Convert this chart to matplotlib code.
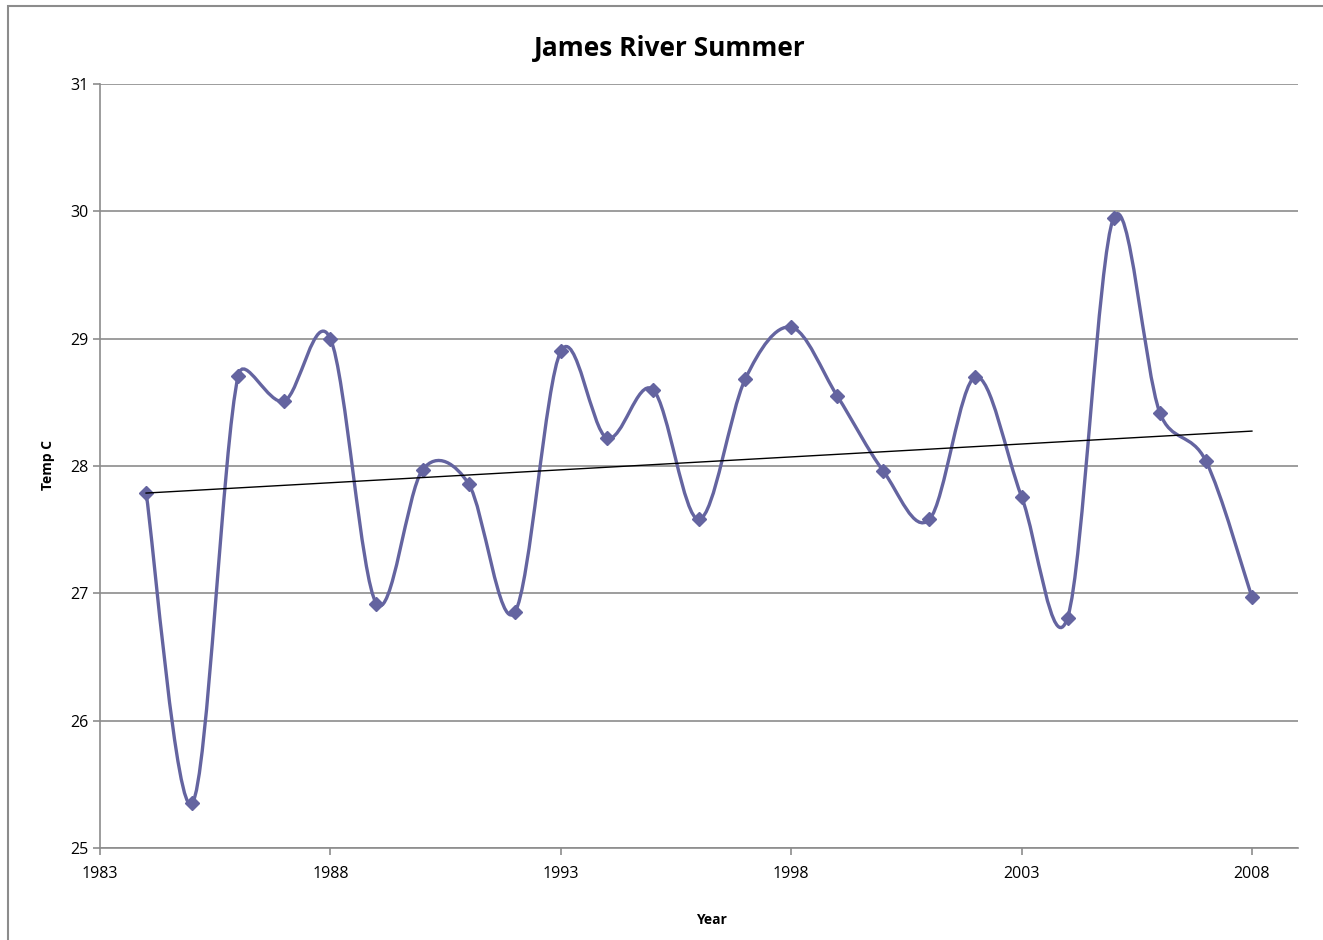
import numpy as np
import matplotlib.pyplot as plt
from matplotlib.path import Path
from matplotlib.patches import PathPatch, Rectangle

years = list(range(1984, 2009))
temps = [27.79, 25.35, 28.71, 28.51, 29.00, 26.92, 27.97, 27.86, 26.85, 28.90,
         28.22, 28.60, 27.58, 28.68, 29.09, 28.55, 27.96, 27.58, 28.70, 27.76,
         26.81, 29.95, 28.42, 28.04, 26.97]

x_ticks = [1983, 1988, 1993, 1998, 2003, 2008]
y_ticks = [25, 26, 27, 28, 29, 30, 31]

line_color = '#6464A0'
plt.rcParams['font.family'] = ['Open Sans', 'DejaVu Sans']

fig = plt.figure(figsize=(13.23, 9.40), dpi=100)
ax = fig.add_axes([100 / 1323, 1 - 848 / 940, 1198 / 1323, 764 / 940])

# chart border
fig.patches.append(Rectangle((8 / 1323, -0.05), 1.1, 1 - 6 / 940 + 0.05,
                             transform=fig.transFigure, fill=False,
                             edgecolor='#8c8c8c', linewidth=1.5))

# smoothed line: bezier segments, control arms worked out in screen pixels
sx, sy = 1198 / 26, 764 / 6  # pixels per data unit
pts = np.column_stack([np.array(years, dtype=float) * sx, np.array(temps) * sy])
ext = np.vstack([pts[:1], pts, pts[-1:]])


def arm(prev, nxt, seg):
    d = nxt - prev
    n = np.hypot(*d)
    if n == 0:
        return np.zeros(2)
    return d / n * min(n / 6, seg / 2)


verts = [pts[0]]
codes = [Path.MOVETO]
for i in range(1, len(ext) - 2):
    p0, p1, p2, p3 = ext[i - 1], ext[i], ext[i + 1], ext[i + 2]
    seg = np.hypot(*(p2 - p1))
    verts += [p1 + arm(p0, p2, seg), p2 - arm(p1, p3, seg), p2]
    codes += [Path.CURVE4] * 3
verts = np.array(verts) / [sx, sy]
ax.add_patch(PathPatch(Path(verts, codes), fill=False, edgecolor=line_color,
                       linewidth=2.4, zorder=3))
ax.plot(years, temps, linestyle='none', marker='D', markersize=7.5,
        color=line_color, zorder=4)

# linear trend
k, b = np.polyfit(years, temps, 1)
ax.plot([years[0], years[-1]], [k * years[0] + b, k * years[-1] + b],
        color='black', linewidth=1.0, zorder=5)

ax.set_xlim(1983, 2009)
ax.set_ylim(25, 31)
ax.set_xticks(x_ticks)
ax.set_yticks(y_ticks)
ax.yaxis.grid(True, color='#8c8c8c', linewidth=1.2)
ax.set_axisbelow(True)
for s in ['top', 'right']:
    ax.spines[s].set_visible(False)
for s in ['left', 'bottom']:
    ax.spines[s].set_color('#8c8c8c')
    ax.spines[s].set_linewidth(1.2)
ax.tick_params(colors='#8c8c8c', labelcolor='black', labelsize=11.5,
               length=5, width=1.2)
ax.tick_params(axis='x', pad=8)

fig.text(670 / 1323, 1 - 49 / 940, 'James River Summer', fontsize=19,
         fontweight='bold', ha='center', va='center')
ax.set_xlabel('Year', fontsize=10, fontweight='bold')
ax.xaxis.set_label_coords((711 - 100) / 1198, -(913 - 848) / 764)
ax.set_ylabel('Temp C', fontsize=10, fontweight='bold')
ax.yaxis.set_label_coords(-(100 - 55) / 1198, (848 - 465) / 764)

fig.savefig('out.png', dpi=100)
